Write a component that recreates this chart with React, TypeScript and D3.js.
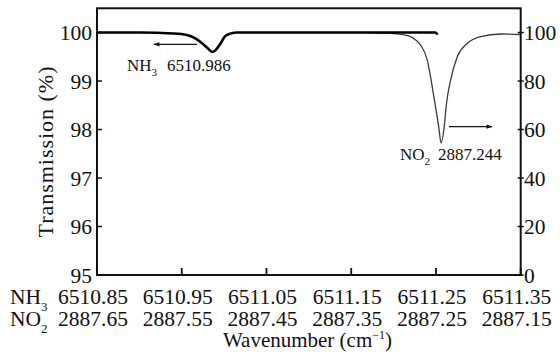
import React from "react";
import * as d3 from "d3";

// NH3 spectrum (left axis, top x labels)
const nh3Wavenumber = [6510.85, 6510.9, 6510.94, 6510.956, 6510.966, 6510.974, 6510.981, 6510.986, 6510.991, 6510.996, 6511.001, 6511.008, 6511.015, 6511.1, 6511.2, 6511.249, 6511.252];
const nh3Transmission = [100, 100, 99.98, 99.95, 99.88, 99.78, 99.67, 99.6, 99.66, 99.78, 99.92, 99.98, 100, 100, 100, 100, 99.96];

// NO2 spectrum (right axis, bottom x labels)
const no2Wavenumber = [2887.33, 2887.318, 2887.304, 2887.29, 2887.28, 2887.274, 2887.268, 2887.2603, 2887.2544, 2887.2493, 2887.2465, 2887.244, 2887.2407, 2887.2375, 2887.2327, 2887.2248, 2887.213, 2887.1973, 2887.1736, 2887.15];
const no2Transmission = [99.9, 99.8, 99.7, 99.2, 98.3, 96.9, 94.8, 88.7, 77.6, 66.8, 60.5, 54.4, 59.8, 70.9, 80.4, 90.0, 95.5, 98.3, 99.4, 99.2];

const nh3Ticks = ["6510.85", "6510.95", "6511.05", "6511.15", "6511.25", "6511.35"];
const no2Ticks = ["2887.65", "2887.55", "2887.45", "2887.35", "2887.25", "2887.15"];
const leftTicks = [95, 96, 97, 98, 99, 100];
const rightTicks = [0, 20, 40, 60, 80, 100];

const W = 560, H = 352;
const L = 97, R = 520.7, T = 8.3, B = 275;
const FS = { fontFamily: '"Liberation Serif"' };

export default function App() {
  const x1 = d3.scaleLinear().domain([6510.85, 6511.35]).range([L, R]);
  const x2 = d3.scaleLinear().domain([2887.65, 2887.15]).range([L, R]);
  const yL = d3.scaleLinear().domain([95, 100.5]).range([B, T]);
  const yR = d3.scaleLinear().domain([0, 110]).range([B, T]);

  const nh3 = nh3Wavenumber.map((w, i) => [x1(w), yL(nh3Transmission[i])] as [number, number]);
  const no2 = no2Wavenumber.map((w, i) => [x2(w), yR(no2Transmission[i])] as [number, number]);
  const line = d3.line().curve(d3.curveMonotoneX);

  return (
    <svg width={W} height={H} style={{ position: "absolute", left: 0, top: 0, background: "#fff" }}>
      <defs>
        <marker id="arr" viewBox="0 0 10 10" refX="9" refY="5" markerWidth="9" markerHeight="6" orient="auto" markerUnits="userSpaceOnUse">
          <path d="M0,1.5 L10,5 L0,8.5 z" fill="#111" />
        </marker>
      </defs>
      {/* NO2 curve */}
      <path d={line(no2) || ""} fill="none" stroke="#3a3a3a" strokeWidth={1.3} />
      {/* NH3 curve */}
      <path d={line(nh3) || ""} fill="none" stroke="#000" strokeWidth={2.6} />

      {/* frame */}
      <rect x={L} y={T} width={R - L} height={B - T} fill="none" stroke="#111" strokeWidth={2} />

      {/* left ticks */}
      {leftTicks.map((v) => (
        <g key={"l" + v}>
          <line x1={L} x2={L + 5} y1={yL(v)} y2={yL(v)} stroke="#111" strokeWidth={1.5} />
          <text style={FS} x={92} y={yL(v)} dy="0.35em" textAnchor="end" fontSize={21.5} fill="#111">{v}</text>
        </g>
      ))}
      {/* right ticks */}
      {rightTicks.map((v) => (
        <g key={"r" + v}>
          <line x1={R - 3} x2={R + 3} y1={yR(v)} y2={yR(v)} stroke="#111" strokeWidth={1.5} />
          <text style={FS} x={524} y={yR(v)} dy="0.35em" textAnchor="start" fontSize={21.5} fill="#111">{v}</text>
        </g>
      ))}
      {/* bottom ticks */}
      {nh3Ticks.map((t, i) => (
        <g key={"b" + t}>
          <line x1={x1(+t)} x2={x1(+t)} y1={B} y2={B - 7} stroke="#111" strokeWidth={1.8} />
          <text style={FS} x={x1(+t) - 4} y={304} textAnchor="middle" fontSize={21.5} fill="#111">{t}</text>
          <text style={FS} x={x1(+t) - 4} y={325.7} textAnchor="middle" fontSize={21.5} fill="#111">{no2Ticks[i]}</text>
        </g>
      ))}
      <text style={FS} x={10} y={304} fontSize={21.5} fill="#111">NH<tspan dy={7} fontSize={13}>3</tspan></text>
      <text style={FS} x={10} y={325.7} fontSize={21.5} fill="#111">NO<tspan dy={7} fontSize={13}>2</tspan></text>

      <text style={FS} x={307.5} y={346.5} textAnchor="middle" fontSize={21} fill="#111">
        Wavenumber (cm<tspan dy={-8} fontSize={12}>−1</tspan><tspan dy={8}>)</tspan>
      </text>
      <text style={FS} transform="translate(53,152) rotate(-90)" textAnchor="middle" fontSize={22} fill="#111" textLength={171} lengthAdjust="spacing">Transmission (%)</text>

      {/* annotations */}
      <line x1={197} x2={154} y1={44.3} y2={44.3} stroke="#111" strokeWidth={1.3} markerEnd="url(#arr)" />
      <text style={FS} x={127} y={70.5} fontSize={17} fill="#111">NH<tspan dy={5} fontSize={11}>3</tspan><tspan dy={-5} x={167}>6510.986</tspan></text>
      <line x1={449} x2={492} y1={126.7} y2={126.7} stroke="#111" strokeWidth={1.3} markerEnd="url(#arr)" />
      <text style={FS} x={400} y={160} fontSize={17} fill="#111">NO<tspan dy={5} fontSize={11}>2</tspan><tspan dy={-5} x={438}>2887.244</tspan></text>
    </svg>
  );
}
